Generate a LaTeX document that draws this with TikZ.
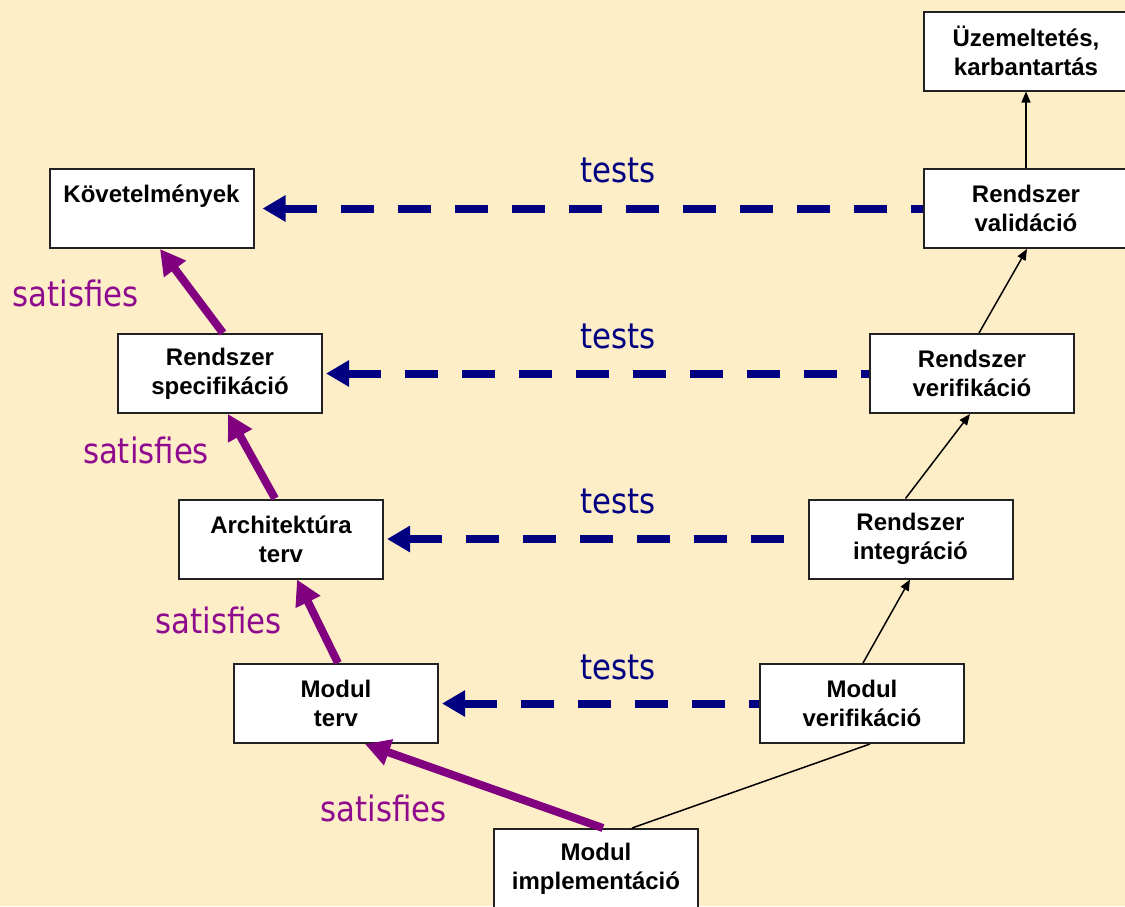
\documentclass[tikz,border=0pt]{standalone}
\usepackage{fontspec}
\setmainfont{Liberation Sans}
\newfontfamily\labelfont[FakeStretch=0.88]{DejaVu Sans}
\usetikzlibrary{arrows.meta}
\definecolor{paper}{HTML}{FEEEC8}
\definecolor{boxline}{HTML}{222222}
\definecolor{violetline}{HTML}{800080}
\definecolor{violettext}{HTML}{8E0A8E}
\definecolor{navyline}{HTML}{000080}
\begin{document}
\begin{tikzpicture}[x=1pt,y=-1pt,
  stage/.style={draw=boxline, line width=2pt, fill=white,
    minimum width=204pt, minimum height=79pt, inner sep=0pt,
    align=center, font=\fontsize{24}{29}\selectfont\bfseries},
  satisfy/.style={draw=violetline, line width=8pt,
    -{Triangle[length=25pt,width=26pt]}},
  testline/.style={draw=navyline, line width=8pt,
    dash pattern=on 33pt off 24pt,
    {Triangle[length=23pt,width=25pt]}-, shorten <=3pt},
  flow/.style={draw=black, line width=1.5pt,
    -{Triangle[length=11pt,width=9pt]}},
  testlabel/.style={text=navyline, anchor=base, inner sep=0pt,
    font=\labelfont\fontsize{35}{40}\selectfont},
  satlabel/.style={text=violettext, anchor=base, inner sep=0pt,
    font=\labelfont\fontsize{35}{40}\selectfont}]

% page
\fill[paper] (0,0) rectangle (1125,906);
\useasboundingbox (0,0) rectangle (1125,906);

% left branch: requirements down to design
\node[stage] (req)   at (151.5,208.5) {Követelmények\\\mbox{}};
\node[stage] (spec)  at (220,373.5)   {Rendszer\\specifikáció};
\node[stage] (arch)  at (281,539)     {Architektúra\\terv};
\node[stage] (mterv) at (336,703.5)   {Modul\\terv};

% bottom
\node[stage] (impl)  at (596,868.5)   {Modul\\implementáció};

% right branch: verification up to operation
\node[stage] (mverif) at (862,703.5)  {Modul\\verifikáció};
\node[stage] (integ)  at (910.5,539)  {Rendszer\\integráció};
\node[stage] (verif)  at (972,373.5)  {Rendszer\\verifikáció};
\node[stage] (val)    at (1026,208.5) {Rendszer\\validáció};
\node[stage] (ops)    at (1026,51)    {Üzemeltetés,\\karbantartás};

% satisfies links
\draw[satisfy] ([xshift=3pt]spec.north) -- ([xshift=8.5pt]req.south);
\draw[satisfy] ([xshift=-6pt]arch.north) -- ([xshift=8pt]spec.south);
\draw[satisfy] ([xshift=2pt]mterv.north) -- ([xshift=16pt]arch.south);
\draw[satisfy] ([xshift=7pt]impl.north) -- ([xshift=29pt]mterv.south);

\node[satlabel] (s1) at (75.5,306)  {satisfies};
\node[satlabel] (s2) at (146,463)   {satisfies};
\node[satlabel] (s3) at (218.5,633) {satisfies};
\node[satlabel] (s4) at (383.5,821) {satisfies};

% tests links
\draw[testline, shorten <=8pt] (req.east) -- (val.west);
\draw[testline] (spec.east) -- (verif.west);
\draw[testline] (arch.east) -- (integ.west);
\draw[testline] (mterv.east) -- (mverif.west);

\node[testlabel] (t1) at (618,182) {tests};
\node[testlabel] (t2) at (618,348) {tests};
\node[testlabel] (t3) at (618,513) {tests};
\node[testlabel] (t4) at (618,679) {tests};

% integration flow
\draw[line width=1.5pt] ([xshift=36pt]impl.north) -- ([xshift=8pt]mverif.south);
\draw[flow] ([xshift=1pt]mverif.north) -- ([xshift=-0.5pt]integ.south);
\draw[flow] ([xshift=-5pt]integ.north) -- ([xshift=-2pt]verif.south);
\draw[flow] ([xshift=7pt]verif.north) -- ([xshift=1pt]val.south);
\draw[flow] (val.north) -- (ops.south);
\end{tikzpicture}
\end{document}
